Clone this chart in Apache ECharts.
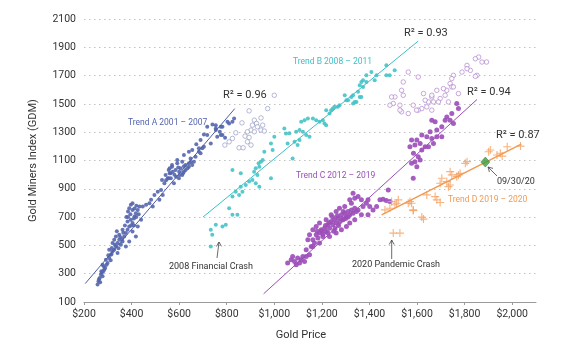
<!DOCTYPE html>
<html>
<head>
<meta charset="utf-8">
<title>Gold Miners vs Gold Price</title>
<script src="https://cdn.jsdelivr.net/npm/echarts@6.0.0/dist/echarts.min.js"></script>
<style>
  html, body { margin: 0; padding: 0; background: #fff; }
  #chart { width: 584px; height: 350px; }
</style>
</head>
<body>
<div id="chart"></div>
<script>
// gold price ($) vs gold miners index (GDM)
var trendA = [
  [257,223],[261,246],[266,270],[271,294],[275,306],[281,317],[285,329],[278,282],[289,341],[295,364],
  [299,376],[263,260],[268,240],[273,318],[283,352],[292,399],[278,364],[306,411],[313,434],[320,458],
  [327,470],[317,482],[306,470],[334,493],[341,517],[348,540],[327,540],[320,517],[355,505],[362,528],
  [369,563],[348,575],[334,563],[376,587],[383,611],[362,611],[390,634],[404,658],[397,681],[383,669],
  [412,704],[418,728],[404,751],[390,763],[397,787],[404,798],[426,751],[433,775],[447,775],[461,787],
  [475,798],[440,681],[426,634],[418,563],[404,599],[482,822],[496,857],[510,880],[524,892],[538,939],
  [552,974],[560,1010],[573,1021],[602,998],[616,1010],[587,986],[531,857],[517,822],[489,775],[376,493],
  [390,528],[341,446],[330,505],[345,480],[352,560],[365,590],[372,640],[385,700],[395,720],[410,690],
  [420,700],[430,720],[412,760],[420,780],[385,740],[378,700],[398,640],[410,640],[360,545],[338,600],
  [316,440],[302,430],[312,395],[578,939],[599,974],[613,998],[627,1033],[641,1056],[655,1068],[627,1068],
  [606,1045],[585,1033],[564,1010],[556,974],[570,1056],[592,1080],[613,1092],[648,1115],[669,1127],[662,1092],
  [683,1162],[704,1197],[690,1244],[733,1221],[718,1280],[754,1315],[775,1280],[782,1338],[810,1362],[740,1355],
  [543,998],[528,963],[760,1268],[771,1303],[782,1280],[793,1261],[803,1373],[824,1373],[775,1338],[754,1350],
  [697,1186],[690,1151],[718,1338],[754,1327],[704,1284],[831,1397],[672,1214],[641,1162],
  [596,1050],[620,1060],[635,1045],[650,1090],[580,1000],[565,975],[620,1020],[545,960],[600,1020],[560,1045],
  [592,1103],[620,1139],[655,1174],[683,1186],[556,1033],[641,1080],[570,1068]
];
var trendAOpen = [
  [1000,1561],[972,1467],[894,1451],[944,1401],[916,1385],[925,1362],[908,1350],[951,1350],[929,1338],[902,1315],
  [887,1303],[916,1303],[944,1315],[958,1308],[864,1366],[838,1296],[877,1272],[894,1263],[887,1232],[902,1209],
  [852,1190],[869,1190],[810,1232],[792,1209],[824,1256]
];
var trendB = [
  [733,611],[739,575],[754,646],[782,634],[796,646],[733,493],[824,716],[845,716],[810,763],[824,845],
  [838,880],[852,857],[866,880],[859,915],[880,927],[894,951],[908,963],[922,939],[937,915],[929,998],
  [915,1021],[937,1056],[944,1092],[951,1103],[934,1080],[922,1045],[824,1033],[859,1010],[986,974],[958,1162],
  [986,1221],[993,1174],[1000,1268],[1042,1327],[1049,1291],[1085,1232],[1092,1303],[1106,1315],[1120,1303],[1098,1209],
  [1106,1244],[1134,1280],[1148,1268],[1113,1373],[1127,1385],[1141,1397],[1162,1397],[1176,1385],[1190,1373],[1204,1385],
  [1211,1362],[1218,1350],[1239,1456],[1253,1479],[1274,1491],[1303,1526],[1331,1561],[1345,1514],[1359,1549],[1373,1620],
  [1387,1655],[1387,1702],[1366,1655],[1331,1503],[1485,1702],[1506,1737],[1471,1702],[1430,1702],[1422,1667],[1408,1725],
  [1373,1667],[1359,1632],[1352,1585],[1366,1549],[1338,1514],[1324,1549],[1310,1526],[1296,1561],[1267,1479],[1246,1467],
  [1218,1456],[1232,1432],[1077,1115],[1056,1221],[1063,1292],[1471,1773]
];
var trendCOpen = [
  [1859,1831],[1892,1796],[1810,1772],[1789,1725],[1824,1737],[1753,1702],[1852,1702],[1746,1679],[1739,1644],[1746,1620],
  [1725,1596],[1711,1608],[1774,1573],[1718,1561],[1683,1596],[1697,1538],[1732,1514],[1662,1549],[1669,1514],[1648,1514],
  [1634,1526],[1627,1573],[1641,1479],[1620,1467],[1605,1456],[1662,1456],[1690,1514],[1563,1725],[1605,1690],[1542,1655],
  [1535,1596],[1542,1561],[1507,1549],[1493,1549],[1500,1503],[1486,1491],[1528,1491],[1535,1444],[1563,1432],[1584,1491],
  [1528,1456],[1598,1456],[1662,1561],[1753,1620],[1810,1749],[1845,1819],[1873,1796],[1845,1695]
];
var trendC = [
  [1767,1503],[1774,1467],[1746,1432],[1725,1408],[1753,1362],[1718,1385],[1739,1385],[1662,1385],[1676,1373],[1704,1338],
  [1683,1315],[1655,1303],[1704,1268],[1683,1268],[1662,1256],[1641,1268],[1620,1280],[1599,1244],[1577,1244],[1591,1209],
  [1613,1221],[1634,1197],[1620,1174],[1648,1197],[1669,1221],[1570,1197],[1585,1151],[1605,1127],[1613,1103],[1591,1092],
  [1577,1080],[1599,1056],[1584,974],[1479,892],
  [1056,376],[1071,399],[1085,387],[1098,411],[1092,364],[1113,399],[1127,387],[1134,422],[1077,422],[1106,376],
  [1148,434],[1120,422],[1134,470],[1155,493],[1162,540],[1169,517],[1183,552],[1176,575],[1190,587],[1204,563],
  [1197,611],[1211,622],[1218,599],[1225,646],[1232,622],[1239,669],[1246,646],[1253,681],[1260,658],[1267,693],
  [1274,669],[1282,716],[1289,681],[1296,728],[1303,704],[1310,739],[1317,716],[1324,751],[1331,728],[1338,763],
  [1345,739],[1352,751],[1162,611],[1148,575],[1141,540],[1176,634],[1190,658],[1218,681],[1239,716],[1260,739],
  [1274,763],[1296,775],[1232,563],[1260,587],[1282,611],[1303,634],[1317,658],[1338,681],[1324,798],[1317,822],
  [1338,834],[1352,845],[1331,869],[1366,822],[1387,798],[1394,822],[1401,775],[1394,716],[1415,751],[1430,775],
  [1444,822],[1457,827],[1471,817],[1486,810],[1366,716],[1373,775],[1162,493],[1190,517],
  [1200,600],[1215,640],[1230,660],[1245,700],[1255,620],[1270,640],[1285,690],[1300,690],[1205,580],[1180,600],
  [1225,590],[1250,600],[1265,710],[1290,740],[1310,700]
];
var trendD = [
  [1901,1162],[1979,1197],[2035,1202],[1936,1139],[1950,1151],[1958,1131],[1803,1080],[1810,1092],[1739,1021],[1746,998],
  [1774,998],[1704,975],[1725,951],[1739,927],[1732,915],[1676,845],[1683,822],[1697,803],[1641,857],[1570,810],
  [1563,798],[1577,798],[1584,746],[1620,700],[1627,686],[1500,587],[1528,587],[1521,822],[1507,787],[1486,763],
  [1465,751],[1584,751],[1697,939],[1767,986],[1514,798],[1493,810],[1908,1174],[1781,1009]
];
var latest = [[1887, 1089]];           // 09/30/20
var lineA = [[205, 230], [834, 1467]];
var lineB = [[700, 700], [1605, 1944]];
var lineC = [[955, 158], [1852, 1531]];
var lineD = [[1451, 716], [2038, 1216]];

var FONT = 'Roboto, "Open Sans", sans-serif';
var PLUS = 'path://M4.3,0H5.7V4.3H10V5.7H5.7V10H4.3V5.7H0V4.3H4.3Z';

function dots(data, color, size, z) {
  return { type: 'scatter', data: data, symbolSize: size, z: z || 2,
           itemStyle: { color: color, opacity: 0.9 } };
}
// hollow markers: white fill, thin coloured ring
function rings(data, color) {
  return { type: 'scatter', data: data, symbol: 'circle', symbolSize: 4.5, z: 2,
           itemStyle: { color: '#fff', borderColor: color, borderWidth: 0.8 } };
}
function trendLine(data, color, w) {
  return { type: 'line', data: data, symbol: 'none', z: 4, silent: true,
           lineStyle: { color: color, width: w } };
}
function label(x, y, text, color, size) {
  return { type: 'text', x: x, y: y, z: 10,
           style: { text: text, fill: color, fontSize: size, fontFamily: FONT,
                    align: 'left', verticalAlign: 'middle' } };
}
function arrow(pts, head) {
  return [
    { type: 'polyline', z: 10, shape: { points: pts }, style: { stroke: '#444', lineWidth: 0.8, fill: null } },
    { type: 'polyline', z: 10, shape: { points: head }, style: { stroke: '#444', lineWidth: 0.8, fill: null } }
  ];
}

var chart = echarts.init(document.getElementById('chart'));
chart.setOption({
  animation: false,
  backgroundColor: '#fff',
  grid: { left: 84, right: 48, top: 19, bottom: 48 },
  xAxis: {
    type: 'value', min: 200, max: 2100, interval: 200,
    name: 'Gold Price', nameLocation: 'middle', nameGap: 28,
    nameTextStyle: { color: '#333', fontSize: 11, fontFamily: FONT, padding: [0, 18, 0, 0] },
    axisLine: { show: true, lineStyle: { color: '#9a9a9a', width: 1 } },
    axisTick: { show: true, length: 3, lineStyle: { color: '#9a9a9a' } },
    axisLabel: {
      color: '#333', fontSize: 10.5, fontFamily: FONT, margin: 7, showMaxLabel: false,
      formatter: function (v) { return '$' + v.toLocaleString('en-US'); }
    },
    splitLine: { show: false }
  },
  yAxis: {
    type: 'value', min: 100, max: 2100, interval: 200,
    name: 'Gold Miners Index (GDM)', nameLocation: 'middle', nameGap: 45,
    nameTextStyle: { color: '#333', fontSize: 11, fontFamily: FONT },
    axisLine: { show: false },
    axisTick: { show: false },
    axisLabel: { color: '#333', fontSize: 10.5, fontFamily: FONT, margin: 8,
                 formatter: function (v) { return String(v); } },
    splitLine: { lineStyle: { color: '#c2c2c2', width: 1.2, type: [1.5, 3.5] } }
  },
  series: [
    rings(trendAOpen, '#8c93bd'),
    rings(trendCOpen, '#a878c8'),
    dots(trendA, '#5466ad', 4),
    dots(trendB, '#45c3c8', 4),
    dots(trendC, '#9b4db8', 5),
    { type: 'scatter', data: trendD, symbol: PLUS, symbolSize: 8, z: 3,
      itemStyle: { color: '#f5a060' } },
    trendLine(lineA, '#4d5ea6', 1),
    trendLine(lineB, '#3dbfc6', 1),
    trendLine(lineC, '#9b4db8', 1),
    trendLine(lineD, '#f19a52', 1.5),
    { type: 'scatter', data: latest, symbol: 'diamond', symbolSize: [9, 10], z: 6,
      itemStyle: { color: '#3d9a41', borderColor: '#2c7a30', borderWidth: 0.6 } }
  ],
  graphic: [
    label(223, 95, 'R² = 0.96', '#333', 11),
    label(404, 33, 'R² = 0.93', '#333', 11),
    label(467, 92, 'R² = 0.94', '#333', 11),
    label(496, 135, 'R² = 0.87', '#333', 11),
    label(128, 123, 'Trend A 2001 – 2007', '#5466ad', 8.5),
    label(293, 62, 'Trend B 2008 – 2011', '#3dbfc6', 8.5),
    label(296, 176, 'Trend C 2012 – 2019', '#9b4db8', 8.5),
    label(448, 200, 'Trend D 2019 – 2020', '#f19a52', 8.5),
    label(169, 267, '2008 Financial Crash', '#333', 9),
    label(352, 265, '2020 Pandemic Crash', '#333', 9),
    label(497, 182, '09/30/20', '#333', 9)
  ].concat(
    arrow([[217, 258], [219, 242]], [[216.4, 246.5], [219, 242], [221.4, 246.3]]),
    arrow([[391.7, 259], [391.7, 240]], [[389.2, 244.5], [391.7, 240], [394.2, 244.5]]),
    arrow([[497, 176], [488, 167]], [[493, 168.4], [488, 167], [489.4, 172]])
  )
});
</script>
</body>
</html>
